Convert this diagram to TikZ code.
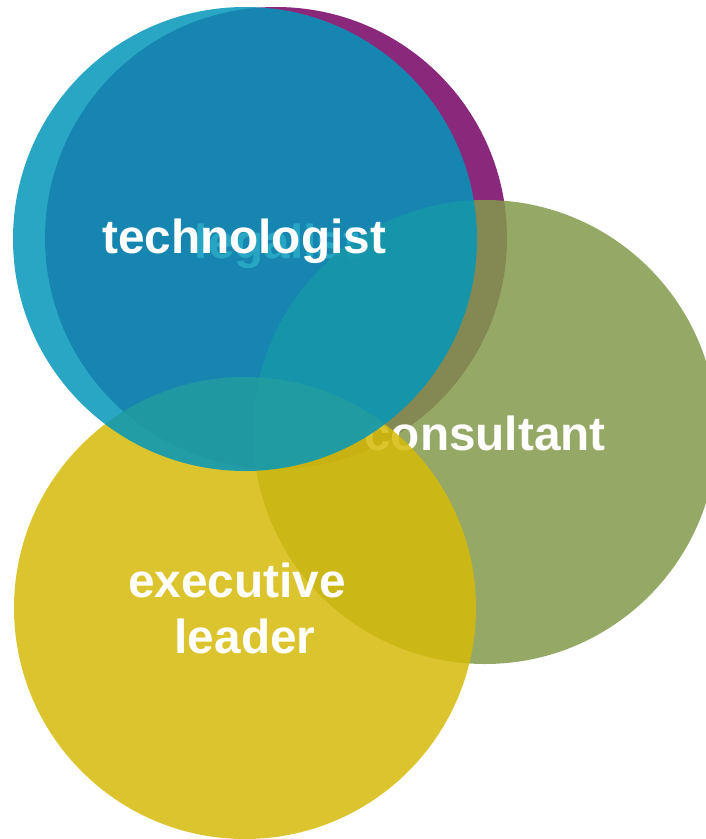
\documentclass[tikz,border=0pt]{standalone}
\usepackage{fontspec}
\setmainfont{Liberation Sans}
\definecolor{rolepurple}{RGB}{138,40,124}
\definecolor{rolegreen}{RGB}{131,153,75}
\definecolor{roleyellow}{RGB}{213,186,8}
\definecolor{roleblue}{RGB}{2,151,186}
\tikzset{
  role/.style={fill opacity=0.85, draw=none},
  rolelabel/.style={text=white, font=\bfseries\fontsize{35.8}{43}\selectfont, anchor=base, inner sep=0pt},
}
\begin{document}
\begin{tikzpicture}[x=0.75pt, y=-0.75pt]
  \useasboundingbox (0,0) rectangle (706,839);
  \clip (0,0) rectangle (706,839);
  % bottom layer: legalist
  \fill[rolepurple] (276,238) circle (231);
  \node[rolelabel] (legalist) at (277,258) {legalist};
  % consultant
  \fill[role, rolegreen] (485,432) circle (232);
  \node[rolelabel] (consultant) at (485,450) {consultant};
  % executive leader
  \fill[role, roleyellow] (245,608) circle (231);
  \node[rolelabel] (executive) at (237,597) {executive};
  \node[rolelabel] (leader) at (245,653) {leader};
  % top layer: technologist
  \fill[role, roleblue] (245,239) circle (232);
  \node[rolelabel] (technologist) at (244,253) {technologist};
\end{tikzpicture}
\end{document}
